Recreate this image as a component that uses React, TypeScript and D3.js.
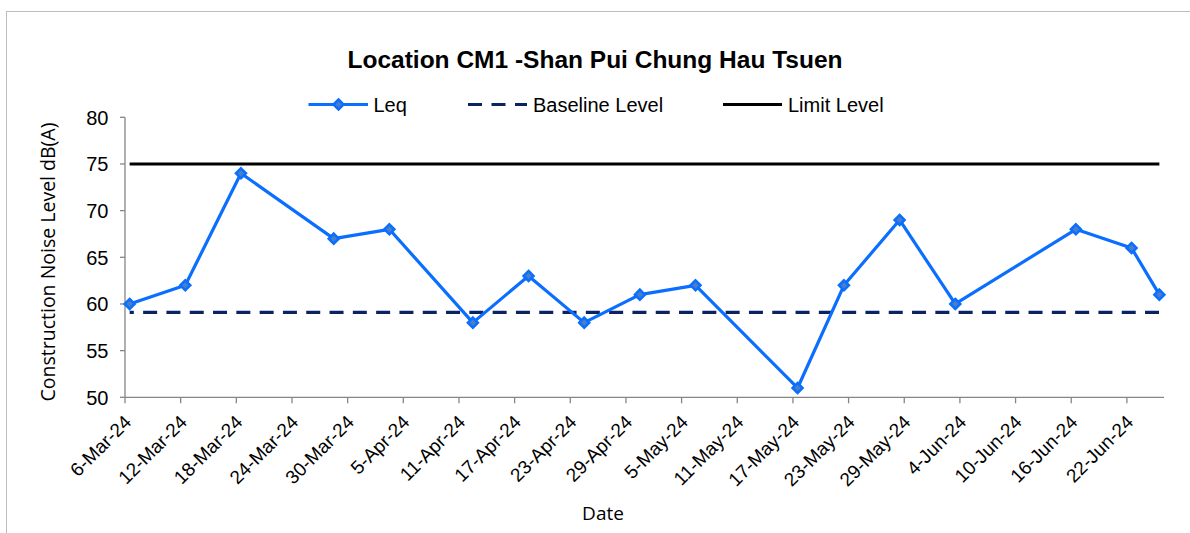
import React from "react";
import * as d3 from "d3";

const dates: string[] = [
  "2024-03-06", "2024-03-12", "2024-03-18", "2024-03-28", "2024-04-03",
  "2024-04-12", "2024-04-18", "2024-04-24", "2024-04-30", "2024-05-06",
  "2024-05-17", "2024-05-22", "2024-05-28", "2024-06-03", "2024-06-16",
  "2024-06-22", "2024-06-25",
];
const leq: number[] = [60, 62, 74, 67, 68, 58, 63, 58, 61, 62, 51, 62, 69, 60, 68, 66, 61];
const baselineLevel = 59.1;
const limitLevel = 75;
const yTicks: number[] = [50, 55, 60, 65, 70, 75, 80];
const axisStart = "2024-03-06";
const axisEnd = "2024-06-26";
const tickStepDays = 6;

const W = 1190;
const H = 533;
const M = { left: 125, right: 1164, top: 117.3, bottom: 397.3 };

const parse = d3.utcParse("%Y-%m-%d");
const fmt = d3.utcFormat("%-d-%b-%y");
const DAY = 86400000;

export default function App() {
  const x = d3.scaleUtc().domain([parse(axisStart)!, parse(axisEnd)!]).range([M.left, M.right]);
  const y = d3.scaleLinear().domain([50, 80]).range([M.bottom, M.top]);
  const px = (s: string) => x(new Date(parse(s)!.getTime() + DAY / 2));
  const xTicks = d3.utcDay.every(1)!.range(parse(axisStart)!, parse(axisEnd)!).filter((_, i) => i % tickStepDays === 0);
  const pts = dates.map((d, i) => [px(d), y(leq[i])] as [number, number]);
  const line = d3.line();
  const x0 = px(dates[0]);
  const x1 = px(dates[dates.length - 1]);
  const font = "'Liberation Sans', Arial, sans-serif";
  const font2 = "'Open Sans', 'Noto Sans', sans-serif";
  const axisColor = "#868686";
  const blue = "#0A6EFF";
  const markerFill = "#4A7EC8";
  const navy = "#0B2263";
  const diamond = (cx: number, cy: number, r: number) =>
    `M${cx},${cy - r}L${cx + r},${cy}L${cx},${cy + r}L${cx - r},${cy}Z`;
  const ly = 104.5;

  return (
    <svg width={W} height={H} style={{ position: "absolute", left: 0, top: 0 }} fontFamily={font}>
      <rect x={0} y={0} width={W} height={H} fill="#fff" />
      <rect x={6.5} y={11.5} width={W + 10} height={H + 10} fill="none" stroke="#BDBDBD" strokeWidth={1} />
      <text x={595} y={68} textAnchor="middle" fontSize={24.5} fontWeight="bold" fill="#000">
        Location CM1 -Shan Pui Chung Hau Tsuen
      </text>

      {/* legend */}
      <g>
        <line x1={308.5} x2={368} y1={ly} y2={ly} stroke={blue} strokeWidth={3} />
        <path d={diamond(338.5, ly, 5)} fill={markerFill} stroke={blue} strokeWidth={2.5} />
        <text x={373.5} y={ly + 7} fontSize={20} fill="#000">Leq</text>
        <line x1={468} x2={527} y1={ly} y2={ly} stroke={navy} strokeWidth={3.2} strokeDasharray="14 9.5" />
        <text x={533} y={ly + 7} fontSize={20} fill="#000">Baseline Level</text>
        <line x1={723} x2={782} y1={ly} y2={ly} stroke="#000" strokeWidth={3} />
        <text x={788} y={ly + 7} fontSize={20} fill="#000">Limit Level</text>
      </g>

      {/* y axis */}
      <line x1={M.left} x2={M.left} y1={M.top} y2={M.bottom} stroke={axisColor} strokeWidth={1.3} />
      {yTicks.map((t) => (
        <g key={t}>
          <line x1={M.left - 5} x2={M.left} y1={y(t)} y2={y(t)} stroke={axisColor} strokeWidth={1.3} />
          <text x={108.5} y={y(t) + 7.3} textAnchor="end" fontSize={20} fill="#000">{t}</text>
        </g>
      ))}
      <text transform={`translate(55,262) rotate(-90)`} textAnchor="middle" fontSize={19.5} fontFamily={font2} fill="#000">
        Construction Noise Level  dB(A)
      </text>

      {/* x axis */}
      <line x1={M.left} x2={M.right} y1={M.bottom} y2={M.bottom} stroke={axisColor} strokeWidth={1.3} />
      {xTicks.map((t) => (
        <g key={t.getTime()}>
          <line x1={x(t)} x2={x(t)} y1={M.bottom} y2={M.bottom + 6} stroke={axisColor} strokeWidth={1.3} />
          <text transform={`translate(${x(t) + 7.5},${M.bottom + 26}) rotate(-45)`} textAnchor="end" fontSize={19} fill="#000">
            {fmt(t)}
          </text>
        </g>
      ))}
      <text x={603} y={520} textAnchor="middle" fontSize={19} fontFamily={font2} fill="#000">Date</text>

      {/* series */}
      <line x1={x0} x2={x1} y1={y(limitLevel)} y2={y(limitLevel)} stroke="#000" strokeWidth={3} />
      <line x1={x0} x2={x1} y1={y(baselineLevel)} y2={y(baselineLevel)} stroke={navy} strokeWidth={3.2}
        strokeDasharray="14 9.3" strokeDashoffset={-13.5} />
      <path d={line(pts) || ""} fill="none" stroke={blue} strokeWidth={3.2} strokeLinejoin="round" />
      {pts.map(([cx, cy], i) => (
        <path key={i} d={diamond(cx, cy, 5)} fill={markerFill} stroke={blue} strokeWidth={2.5} />
      ))}
    </svg>
  );
}
